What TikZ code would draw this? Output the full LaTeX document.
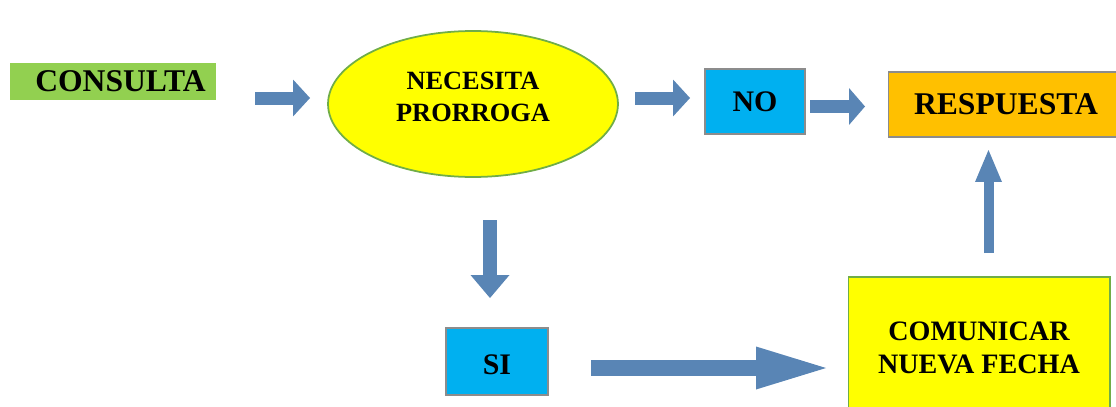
\documentclass[tikz,border=0pt]{standalone}
\usepackage{fontspec}
\setmainfont{Liberation Serif}
\usetikzlibrary{arrows.meta,shapes.geometric}

\definecolor{consultagreen}{HTML}{92D050}
\definecolor{borde}{HTML}{70AD47}
\definecolor{amarillo}{HTML}{FFFF00}
\definecolor{celeste}{HTML}{00B0F0}
\definecolor{naranja}{HTML}{FFC000}
\definecolor{gris}{HTML}{8C8C8C}
\definecolor{flechaazul}{HTML}{5985B5}

\tikzset{
 caja/.style={draw=gris,line width=0.6pt,inner sep=0pt,align=center},
 flecha/.style n args={3}{draw=flechaazul,line width=#1,
  -{Triangle[width=#2,length=#3,line width=0pt]}}
}

\begin{document}
\begin{tikzpicture}[x=0.02cm,y=-0.02cm]
\useasboundingbox (0,0) rectangle (1116,406);
%Nodes
\path
 (113,81.5) node[caja,draw=none,fill=consultagreen,minimum width=4.12cm,minimum height=0.74cm,
  font=\bfseries\fontsize{18pt}{21pt}\selectfont] (consulta) {\hspace{0.3cm}CONSULTA}
 (473,104) node[caja,ellipse,draw=borde,line width=1pt,fill=amarillo,minimum width=5.8cm,minimum height=2.92cm,
  font=\bfseries\fontsize{15pt}{18.5pt}\selectfont] (prorroga) {NECESITA\\PRORROGA\rule[-0.28cm]{0pt}{0.28cm}}
 (755,101.5) node[caja,fill=celeste,minimum width=2cm,minimum height=1.3cm,
  font=\bfseries\fontsize{17pt}{20pt}\selectfont] (no) {NO}
 (1006,104.5) node[caja,fill=naranja,minimum width=4.72cm,minimum height=1.3cm,
  font=\bfseries\fontsize{18pt}{21pt}\selectfont] (respuesta) {RESPUESTA}
 (497,361.5) node[caja,fill=celeste,minimum width=2.04cm,minimum height=1.34cm,
  font=\bfseries\fontsize{17pt}{20pt}\selectfont] (si) {\rule{0pt}{0.54cm}SI}
 (979,348) node[caja,draw=borde,fill=amarillo,minimum width=5.24cm,minimum height=2.84cm,
  font=\bfseries\fontsize{16pt}{18.7pt}\selectfont] (comunicar) {COMUNICAR\\NUEVA FECHA}
 ;
%Arrows
\path
 (255,98) coordinate (f1a)  (310,98) coordinate (f1b)
 (635,98) coordinate (f2a)  (690,98) coordinate (f2b)
 (810,106.5) coordinate (f3a)  (865,106.5) coordinate (f3b)
 (490,220) coordinate (f4a)  (490,298) coordinate (f4b)
 (591,368) coordinate (f5a)  (826,368) coordinate (f5b)
 (988.5,253) coordinate (f6a)  (988.5,150) coordinate (f6b)
 ;
\draw[flecha={0.26cm}{0.74cm}{0.34cm}] (f1a) -- (f1b);
\draw[flecha={0.26cm}{0.74cm}{0.34cm}] (f2a) -- (f2b);
\draw[flecha={0.26cm}{0.74cm}{0.32cm}] (f3a) -- (f3b);
\draw[flecha={0.28cm}{0.78cm}{0.46cm}] (f4a) -- (f4b);
\draw[flecha={0.32cm}{0.86cm}{1.4cm}] (f5a) -- (f5b);
\draw[flecha={0.2cm}{0.54cm}{0.64cm}] (f6a) -- (f6b);
\end{tikzpicture}
\end{document}
